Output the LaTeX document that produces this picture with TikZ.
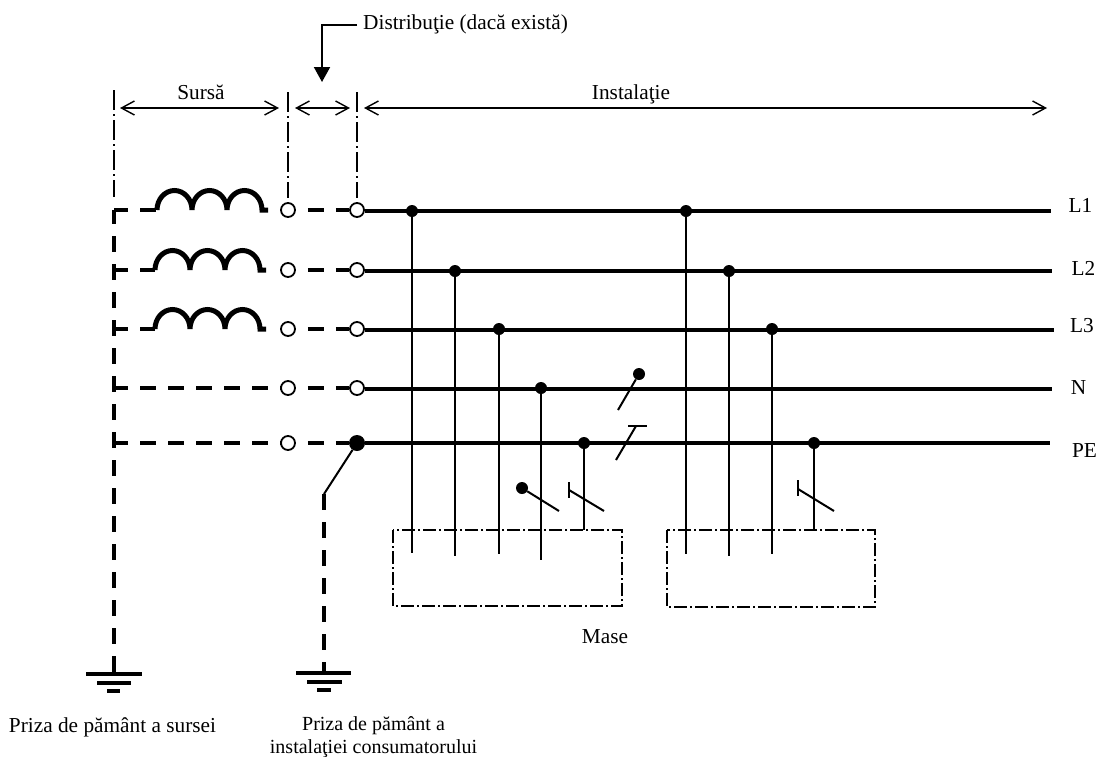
\documentclass[tikz,border=0pt]{standalone}
\usepackage{fontspec}
\setmainfont{Liberation Serif}
\usetikzlibrary{arrows.meta}

\begin{document}
\begin{tikzpicture}[x=1pt,y=-1pt]
\tikzset{label/.style = {inner sep=0pt,anchor=base,font=\fontsize{21.3}{23}\selectfont,align=center}}
\tikzset{hollow/.style = {shape=circle,draw,fill=white,line width=1.8pt,minimum size=14pt,inner sep=0pt}}
\tikzset{dot/.style = {shape=circle,fill=black,minimum size=12pt,inner sep=0pt}}
\tikzset{bus/.style = {line width=4pt}}
\tikzset{coil/.style = {line width=5pt}}
\tikzset{feed/.style = {line width=4pt,dash pattern=on 16pt off 12pt,dash phase=2pt}}
\tikzset{feedb/.style = {line width=4pt,dash pattern=on 16pt off 12pt,dash phase=16pt}}
\tikzset{wire/.style = {line width=2pt}}
\tikzset{limit/.style = {line width=1.3pt,dash pattern=on 20pt off 4pt on 2pt off 4pt}}
\tikzset{mass/.style = {line width=1.6pt,dash pattern=on 13pt off 3pt on 2pt off 3pt}}
\tikzset{span/.style = {line width=1.4pt,{Straight Barb[length=13pt,width=14pt]}-{Straight Barb[length=13pt,width=14pt]}}}
\useasboundingbox (0,0) rectangle (1100,756);

%terminals
\node[hollow] (s1) at (288,210) {};
\node[hollow] (s2) at (288,270) {};
\node[hollow] (s3) at (288,329) {};
\node[hollow] (s4) at (288,388) {};
\node[hollow] (s5) at (288,443) {};
\node[hollow] (t1) at (357,210) {};
\node[hollow] (t2) at (357,270) {};
\node[hollow] (t3) at (357,329) {};
\node[hollow] (t4) at (357,388) {};
\node[dot,minimum size=16pt] (t5) at (357,443) {};

%line labels
\node[label] (l1) at (1080.5,212) {L1};
\node[label] (l2) at (1083.5,275) {L2};
\node[label] (l3) at (1082,332) {L3};
\node[label] (ln) at (1078.5,394) {N};
\node[label] (lpe) at (1084.5,457) {PE};
\coordinate (e1) at (1051,211);
\coordinate (e2) at (1052,271);
\coordinate (e3) at (1054,330);
\coordinate (e4) at (1052,389);
\coordinate (e5) at (1050,443);
\coordinate (f1) at (365,211);
\coordinate (f2) at (365,271);
\coordinate (f3) at (365,330);
\coordinate (f4) at (365,389);

%source side
\coordinate (w1) at (114,210);
\coordinate (w2) at (114,270);
\coordinate (w3) at (114,329);
\coordinate (w4) at (114,388);
\coordinate (w5) at (114,443);
\coordinate (c1) at (157,210);
\coordinate (c2) at (155,270);
\coordinate (c3) at (155,329);
\coordinate (g1) at (114,672);
\coordinate (g2) at (324,672);
\coordinate (k) at (324,494);

\draw[feed] (w1) -- (c1);
\draw[feed] (w2) -- (c2);
\draw[feed] (w3) -- (c3);
\draw[feed] (w4) -- (s4);
\draw[feed] (w5) -- (s5);
\draw[feed] (w1) -- (g1);

%coils
\draw[coil] (c1) arc[start angle=180,end angle=0,x radius=17.5pt,y radius=19.5pt]
  arc[start angle=180,end angle=0,x radius=17.5pt,y radius=19.5pt]
  arc[start angle=180,end angle=0,x radius=17.5pt,y radius=19.5pt] -- ++(6pt,0pt);
\draw[coil] (c2) arc[start angle=180,end angle=0,x radius=17.5pt,y radius=19.5pt]
  arc[start angle=180,end angle=0,x radius=17.5pt,y radius=19.5pt]
  arc[start angle=180,end angle=0,x radius=17.5pt,y radius=19.5pt] -- ++(6pt,0pt);
\draw[coil] (c3) arc[start angle=180,end angle=0,x radius=17.5pt,y radius=19.5pt]
  arc[start angle=180,end angle=0,x radius=17.5pt,y radius=19.5pt]
  arc[start angle=180,end angle=0,x radius=17.5pt,y radius=19.5pt] -- ++(6pt,0pt);

%distribution
\draw[feedb] (s1) -- (t1);
\draw[feedb] (s2) -- (t2);
\draw[feedb] (s3) -- (t3);
\draw[feedb] (s4) -- (t4);
\draw[feedb] (s5) -- (t5);

%bars
\draw[bus] (f1) -- (e1);
\draw[bus] (f2) -- (e2);
\draw[bus] (f3) -- (e3);
\draw[bus] (f4) -- (e4);
\draw[bus] (t5) -- (e5);

%earth
\draw[wire] (t5) -- (k);
\draw[feed,dash phase=0pt] (k) -- (g2);
\draw[line width=4pt] (86,674) -- (142,674);
\draw[line width=4pt] (97,683) -- (131,683);
\draw[line width=4pt] (107,691) -- (120,691);
\draw[line width=4pt] (296,673) -- (351,673);
\draw[line width=4pt] (307,682) -- (342,682);
\draw[line width=4pt] (317,690) -- (331,690);

%mase
\draw[mass] (393,530) rectangle (622,606);
\draw[mass] (667,530) rectangle (875,607);

%taps
\node[dot] (a1) at (412,211) {};
\node[dot] (a2) at (455,271) {};
\node[dot] (a3) at (499,329) {};
\node[dot] (a4) at (541,388) {};
\node[dot] (a5) at (584,443) {};
\node[dot] (b1) at (686,211) {};
\node[dot] (b2) at (729,271) {};
\node[dot] (b3) at (772,329) {};
\node[dot] (b5) at (814,443) {};
\coordinate (m1) at (412,553);
\coordinate (m2) at (455,556);
\coordinate (m3) at (499,554);
\coordinate (m4) at (541,560);
\coordinate (m5) at (584,530);
\coordinate (n1) at (686,554);
\coordinate (n2) at (729,556);
\coordinate (n3) at (772,554);
\coordinate (n5) at (814,530);
\draw[wire] (a1) -- (m1);
\draw[wire] (a2) -- (m2);
\draw[wire] (a3) -- (m3);
\draw[wire] (a4) -- (m4);
\draw[wire] (a5) -- (m5);
\draw[wire] (b1) -- (n1);
\draw[wire] (b2) -- (n2);
\draw[wire] (b3) -- (n3);
\draw[wire] (b5) -- (n5);

%switches
\node[dot] (p1) at (522,488) {};
\node[dot] (p2) at (639,374) {};
\coordinate (q1) at (559,511);
\coordinate (q2) at (618,410);
\draw[wire] (p1) -- (q1);
\draw[wire] (p2) -- (q2);
\draw[wire] (569,482) -- (569,498);
\draw[wire] (569,490) -- (604,511);
\draw[wire] (628,426) -- (647,426);
\draw[wire] (636,426) -- (616,460);
\draw[wire] (798,480) -- (798,496);
\draw[wire] (798,489) -- (834,511);

%limits
\coordinate (v1) at (114,90);
\coordinate (v2) at (288,92);
\coordinate (v3) at (357,92);
\coordinate (u1) at (114,197);
\coordinate (u2) at (288,198);
\coordinate (u3) at (357,198);
\draw[limit] (v1) -- (u1);
\draw[limit] (v2) -- (u2);
\draw[limit] (v3) -- (u3);

%spans
\node[label] (src) at (201,99) {Sursă};
\node[label] (ins) at (631,99) {Instalaţie};
\draw[span] (120,108) -- (279,108);
\draw[span] (295,108) -- (350,108);
\draw[span] (364,108) -- (1047,108);

\node[label,anchor=base west] (dist) at (363,29) {Distribuţie (dacă există)};
\coordinate (j) at (357,25);
\coordinate (h) at (322,25);
\coordinate (i) at (322,82);
\draw[wire,-{Triangle[length=15pt,width=16pt]}] (j) -- (h) -- (i);

\node[label] (mas) at (605,643) {Mase};
\node[label] (pa) at (112.5,732) {Priza de pământ a sursei};
\node[label,font=\fontsize{20}{23}\selectfont] (pb) at (373.5,753) {Priza de pământ a\\instalaţiei consumatorului};

\end{tikzpicture}
\end{document}
